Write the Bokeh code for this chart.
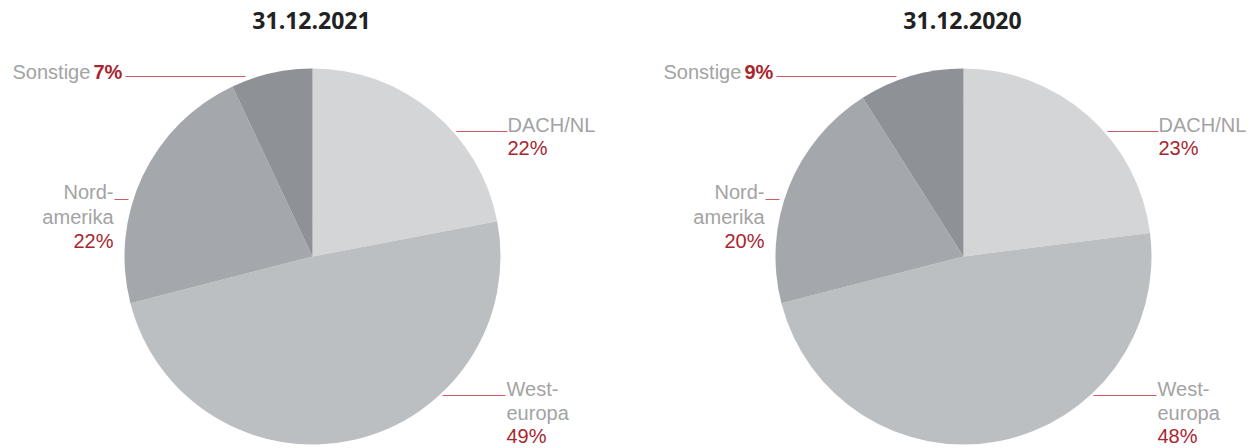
import numpy as np
from bokeh.plotting import figure
from bokeh.models import Range1d
from bokeh.core.properties import value
from bokeh.embed import file_html
from bokeh.resources import INLINE

# ---- data ----
categories = ["DACH/NL", "Westeuropa", "Nordamerika", "Sonstige"]
share_2021 = [22, 49, 22, 7]
share_2020 = [23, 48, 20, 9]
titles = ["31.12.2021", "31.12.2020"]
slice_colors = ["#d4d5d7", "#bcbfc2", "#a4a7ab", "#8e9296"]

W, H = 1253, 448
p = figure(width=W, height=H, x_range=Range1d(0, W), y_range=Range1d(0, H),
           output_backend="svg", toolbar_location=None, min_border=0,
           outline_line_color=None)
p.axis.visible = False
p.grid.visible = False
p.background_fill_color = "white"

GRAY = "#a3a3a3"
RED = "#a8262f"
LFONT = value("Liberation Sans")
LSIZE = "20px"
SHIFT = 7      # compensation for SVG baseline placement (label text)
TSHIFT = 8     # same for title


def px(X):
    return X


def py(Y):
    return H - Y


def draw_pie(cx_page, cy_page, shares, title):
    cx, cy = px(cx_page), py(cy_page)
    s = np.array(shares, dtype=float)
    frac = s / s.sum()
    cum = np.concatenate([[0], np.cumsum(frac)])
    starts = np.pi / 2 - 2 * np.pi * cum[:-1]
    ends = np.pi / 2 - 2 * np.pi * cum[1:]
    p.wedge(x=[cx] * len(s), y=[cy] * len(s), radius=188, radius_units="screen",
            start_angle=list(starts), end_angle=list(ends), direction="clock",
            fill_color=slice_colors, line_color=None)

    # title
    p.text(x=[cx - 1], y=[py(28) + TSHIFT], text=[title], text_align="center",
           text_baseline="alphabetic", text_font=value("Open Sans"),
           text_font_style="bold", text_font_size="23px", text_color="#222222")

    def t(dx, dy, txt, color=GRAY, align="left", bold=False):
        p.text(x=[cx + dx], y=[cy - dy + SHIFT], text=[txt], text_align=align,
               text_baseline="alphabetic", text_font=LFONT,
               text_font_style="bold" if bold else "normal",
               text_font_size=LSIZE, text_color=color)

    def ln(dx0, dx1, dy):
        p.line(x=[cx + dx0, cx + dx1], y=[cy - dy, cy - dy],
               line_color="#cf5a61", line_width=1.2)

    pct = [f"{v}%" for v in shares]
    # DACH/NL
    ln(144, 195, -125)
    t(195, -125, "DACH/NL")
    t(195, -102, pct[0], RED)
    # Westeuropa
    ln(130, 193, 139)
    t(194, 139, "West-")
    t(194, 163, "europa")
    t(194, 186, pct[1], RED)
    # Nordamerika
    ln(-198, -184, -57)
    t(-199, -58, "Nord-", align="right")
    t(-199, -33, "amerika", align="right")
    t(-199, -9, pct[2], RED, align="right")
    # Sonstige
    ln(-187, -67, -180)
    t(-300, -178, "Sonstige")
    t(-219, -178, pct[3], RED, bold=True)


draw_pie(312, 256, share_2021, titles[0])
draw_pie(963, 256, share_2020, titles[1])

open("out.html", "w").write(file_html(p, INLINE))
